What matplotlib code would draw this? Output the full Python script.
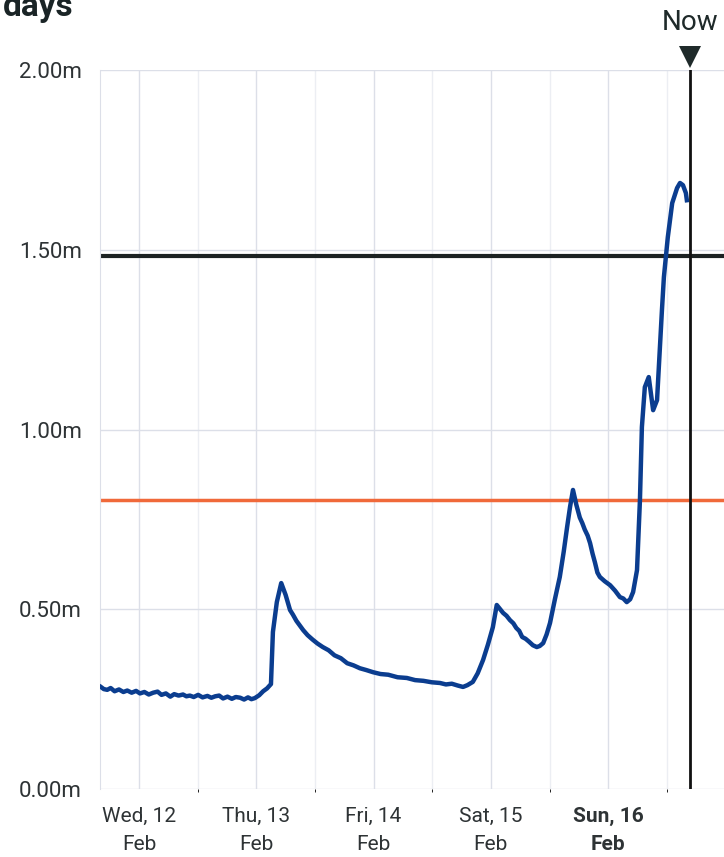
import matplotlib.pyplot as plt
from matplotlib.ticker import FixedLocator

# hours since Wed 12 Feb 00:00 and value in millions in pieces
hours_wed = [-7.8, -7.2, -6.5, -5.8, -5.0, -4.1, -3.2, -2.4, -1.5, -0.6,
             0.2, 1.1, 2.0, 2.9, 3.8, 4.6, 5.5, 6.4, 7.2, 8.1,
             9.0, 9.7, 10.4, 11.2, 12.1, 13.0, 14.0, 14.8, 15.6, 16.4,
             17.2, 18.1, 19.0, 19.8, 20.7, 21.5, 22.3, 23.0, 23.7]
values_wed = [0.284, 0.278, 0.276, 0.281, 0.272, 0.277, 0.270, 0.274, 0.268, 0.273,
              0.266, 0.270, 0.263, 0.268, 0.271, 0.262, 0.266, 0.257, 0.264, 0.260,
              0.263, 0.258, 0.260, 0.256, 0.262, 0.255, 0.259, 0.254, 0.258, 0.260,
              0.252, 0.257, 0.251, 0.256, 0.254, 0.249, 0.255, 0.250, 0.253]

hours_thu = [24.6, 25.4, 26.2, 27.0, 27.4, 28.2, 29.1, 30.0, 30.9, 31.5,
             32.2, 32.9, 33.6, 34.5, 35.5, 36.5, 37.6, 38.8, 40.0, 41.3,
             42.6, 43.9, 45.2, 46.5, 47.9, 49.4, 51.0, 52.9, 54.8, 56.5,
             58.2, 59.9, 61.6, 62.8, 64.0, 65.2, 66.3]
values_thu = [0.261, 0.272, 0.280, 0.292, 0.437, 0.520, 0.573, 0.540, 0.498, 0.485,
              0.468, 0.455, 0.442, 0.428, 0.416, 0.405, 0.395, 0.386, 0.372, 0.364,
              0.350, 0.344, 0.336, 0.331, 0.325, 0.320, 0.318, 0.311, 0.309, 0.303,
              0.301, 0.297, 0.295, 0.291, 0.293, 0.288, 0.284]

hours_sat = [67.2, 68.3, 69.3, 70.4, 71.4, 72.4, 73.2, 73.9, 74.5, 75.2,
             75.9, 76.6, 77.2, 77.8, 78.4, 79.1, 79.8, 80.6, 81.4, 82.0,
             82.7, 83.4, 84.1]
values_sat = [0.289, 0.298, 0.322, 0.359, 0.402, 0.450, 0.512, 0.500, 0.490, 0.482,
              0.470, 0.461, 0.448, 0.440, 0.423, 0.418, 0.410, 0.400, 0.395, 0.398,
              0.406, 0.430, 0.462]

hours_sun = [85.1, 86.1, 86.9, 87.6, 88.2, 88.8, 89.5, 90.2, 90.7, 91.2,
             91.8, 92.3, 92.8, 93.3, 93.8, 94.3, 95.3, 96.4, 97.4, 98.4,
             99.1, 99.8, 100.5, 101.1, 101.9, 102.5, 102.9, 103.5, 104.3, 105.2,
             106.0, 107.0, 107.4, 108.2, 109.1, 110.1, 110.7, 111.3, 111.9, 112.1]
values_sun = [0.528, 0.590, 0.660, 0.729, 0.785, 0.832, 0.790, 0.755, 0.740, 0.722,
              0.705, 0.684, 0.655, 0.630, 0.602, 0.590, 0.578, 0.567, 0.552, 0.534,
              0.530, 0.520, 0.528, 0.548, 0.609, 0.804, 1.007, 1.118, 1.146, 1.054,
              1.082, 1.332, 1.424, 1.535, 1.630, 1.672, 1.686, 1.680, 1.658, 1.638]

hours = hours_wed + hours_thu + hours_sat + hours_sun
values = values_wed + values_thu + values_sat + values_sun

day_ticks = [0, 24, 48, 72, 96]
day_labels = ["Wed, 12\nFeb", "Thu, 13\nFeb", "Fri, 14\nFeb", "Sat, 15\nFeb", "Sun, 16\nFeb"]
noon_ticks = [12, 36, 60, 84, 108]
y_ticks = [0.0, 0.5, 1.0, 1.5, 2.0]
y_labels = ["0.00m", "0.50m", "1.00m", "1.50m", "2.00m"]

black_level = 1.483
orange_level = 0.804
now_hour = 112.7

plt.rcParams['font.family'] = ['Roboto', 'DejaVu Sans']

fig = plt.figure(figsize=(7.24, 8.57), dpi=100)
ax = fig.add_axes([0.138, 0.0793, 0.862, 0.8389])

ax.set_xlim(-8.0, 119.7)
ax.set_ylim(0, 2.0)

ax.set_xticks(day_ticks)
ax.set_xticklabels(day_labels)
ax.xaxis.set_minor_locator(FixedLocator(noon_ticks))
ax.set_yticks(y_ticks)
ax.set_yticklabels(y_labels)
ax.tick_params(axis='both', length=0, colors='#2e3335')
ax.tick_params(axis='x', labelsize=15, pad=13)
ax.tick_params(axis='y', labelsize=16, pad=13)
for lab in ax.get_xticklabels():
    lab.set_linespacing(1.6)
ax.get_xticklabels()[-1].set_fontweight('bold')

ax.grid(True, which='major', color='#dcdfe8', lw=1)
ax.grid(True, which='minor', axis='x', color='#eceef3', lw=1)
for s in ['top', 'right', 'bottom']:
    ax.spines[s].set_visible(False)
ax.spines['left'].set_color('#dcdfe8')

ax.axhline(orange_level, color='#f0693a', lw=2.5, zorder=2)
ax.axhline(black_level, color='#1c2222', lw=3, zorder=2)
ax.plot(hours, values, color='#0b3d8f', lw=3.2, zorder=3, solid_joinstyle='round')

ax.axvline(now_hour, color='#111111', lw=2, zorder=4)
ax.plot([now_hour], [1.018], marker='v', ms=16, color='#1f2a2a', clip_on=False,
        transform=ax.get_xaxis_transform(), zorder=5, markeredgewidth=0)
ax.text(now_hour, 1.0668, "Now", transform=ax.get_xaxis_transform(), ha='center',
        va='center', fontsize=20, color='#1f2a2a')

fig.text(73 / 724, 1 - 16 / 857, "days", ha='right', va='baseline', fontsize=24,
         fontweight='bold', color='#1a2426')

fig.savefig("out.png", dpi=100)
